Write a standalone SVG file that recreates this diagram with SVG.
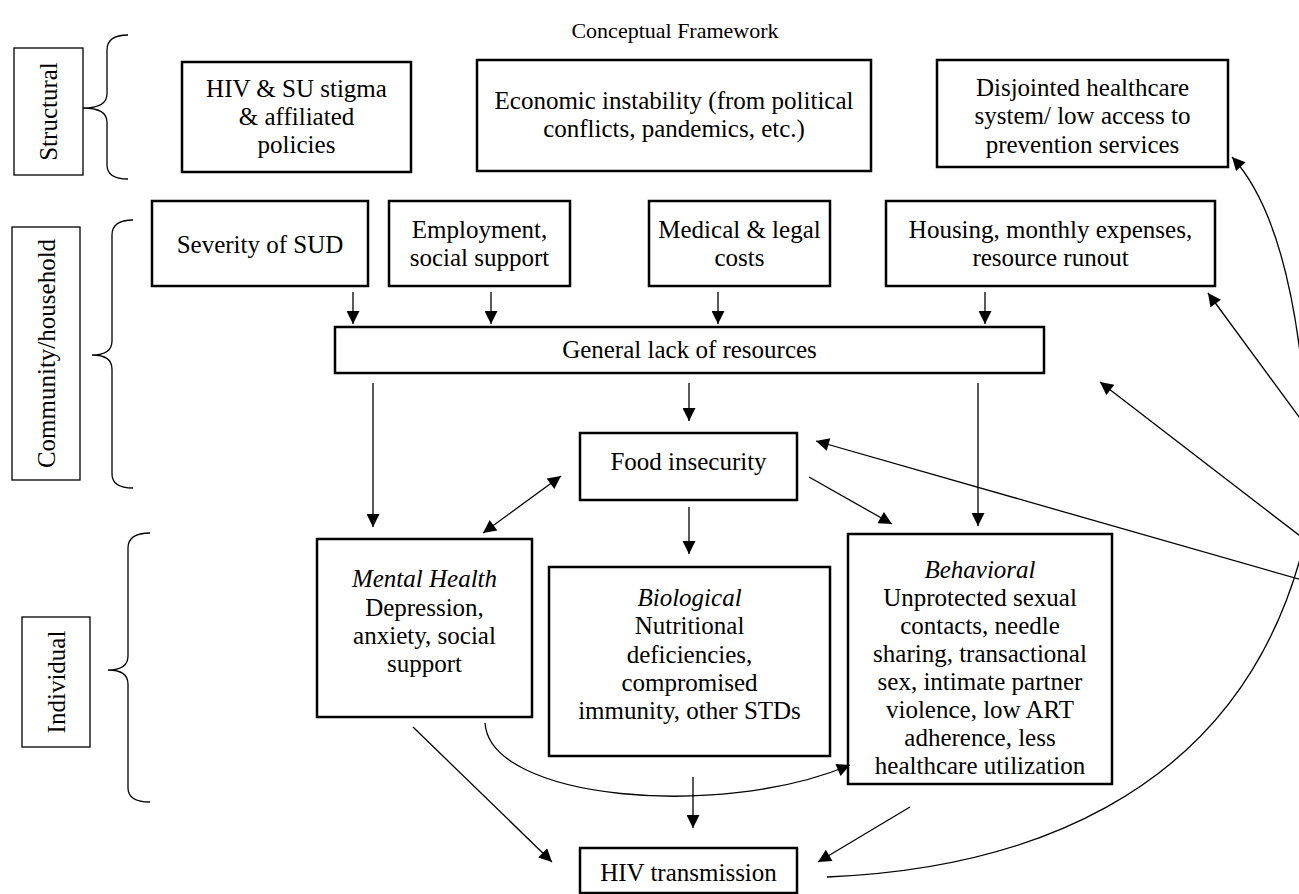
<svg xmlns="http://www.w3.org/2000/svg" width="1299" height="894" viewBox="0 0 1299 894">
<defs>
<style>
text{font-family:"Liberation Serif","Times New Roman",serif;font-size:25px;fill:#000;text-anchor:middle}
.title{font-size:22px}
.it{font-style:italic}
.box{fill:#fff;stroke:#000;stroke-width:2.5}
.lbl{fill:#fff;stroke:#000;stroke-width:1.3}
.brace{fill:none;stroke:#000;stroke-width:1.3}
.c{fill:none;stroke:#000;stroke-width:1.3}
</style>
<marker id="ah" viewBox="0 0 10 10" refX="10" refY="5" markerWidth="15" markerHeight="13" markerUnits="userSpaceOnUse" orient="auto-start-reverse">
<path d="M0,0 L10,5 L0,10 z" fill="#000"/>
</marker>
</defs>
<rect width="1299" height="894" fill="#fff"/>
<text class="title" x="675" y="38">Conceptual Framework</text>

<g id="level-labels">
<g id="structural-label">
<rect class="lbl" x="14" y="48" width="69" height="127"/>
<text transform="translate(57,111.5) rotate(-90)">Structural</text>
<path class="brace" d="M128,35 Q107,35 107,50 L107,94 Q107,108 83,108 Q107,108 107,122 L107,165 Q107,179 128,179"/>
</g>
<g id="community-label">
<rect class="lbl" x="12" y="227" width="68" height="253"/>
<text transform="translate(55,353.5) rotate(-90)">Community/household</text>
<path class="brace" d="M133,220 Q112,220 112,235 L112,341 Q112,355 92,355 Q112,355 112,369 L112,474 Q112,488 133,488"/>
</g>
<g id="individual-label">
<rect class="lbl" x="22" y="617" width="68" height="130"/>
<text transform="translate(65,682) rotate(-90)">Individual</text>
<path class="brace" d="M150,533 Q128,533 128,548 L128,656 Q128,670 108,670 Q128,670 128,684 L128,788 Q128,802 150,802"/>
</g>
</g>

<g id="stigma">
<rect class="box" x="182" y="62" width="229" height="110"/>
<text x="296.5" y="97">HIV &amp; SU stigma</text>
<text x="296.5" y="125">&amp; affiliated</text>
<text x="296.5" y="153">policies</text>
</g>
<g id="economic">
<rect class="box" x="477" y="60" width="394" height="111"/>
<text x="674" y="109">Economic instability (from political</text>
<text x="674" y="137">conflicts, pandemics, etc.)</text>
</g>
<g id="healthcare-system">
<rect class="box" x="937" y="60" width="291" height="107"/>
<text x="1082.5" y="96">Disjointed healthcare</text>
<text x="1082.5" y="124">system/ low access to</text>
<text x="1082.5" y="153">prevention services</text>
</g>

<g id="severity">
<rect class="box" x="152" y="201" width="216" height="85"/>
<text x="260" y="253">Severity of SUD</text>
</g>
<g id="employment">
<rect class="box" x="389" y="201" width="181" height="85"/>
<text x="479.5" y="238">Employment,</text>
<text x="479.5" y="266">social support</text>
</g>
<g id="medical">
<rect class="box" x="649" y="201" width="181" height="85"/>
<text x="739.5" y="238">Medical &amp; legal</text>
<text x="739.5" y="266">costs</text>
</g>
<g id="housing">
<rect class="box" x="886" y="201" width="329" height="85"/>
<text x="1050.5" y="238">Housing, monthly expenses,</text>
<text x="1050.5" y="266">resource runout</text>
</g>

<g id="general-lack">
<rect class="box" x="335" y="327" width="709" height="46"/>
<text x="689.5" y="358">General lack of resources</text>
</g>

<g id="food-insecurity">
<rect class="box" x="580" y="433" width="217" height="67"/>
<text x="688.5" y="470">Food insecurity</text>
</g>

<g id="mental-health">
<rect class="box" x="317" y="539" width="215" height="178"/>
<text class="it" x="424.5" y="587">Mental Health</text>
<text x="424.5" y="615.5">Depression,</text>
<text x="424.5" y="644">anxiety, social</text>
<text x="424.5" y="672">support</text>
</g>
<g id="biological">
<rect class="box" x="549" y="567" width="281" height="189"/>
<text class="it" x="689.5" y="606">Biological</text>
<text x="689.5" y="634">Nutritional</text>
<text x="689.5" y="662.5">deficiencies,</text>
<text x="689.5" y="691">compromised</text>
<text x="689.5" y="719">immunity, other STDs</text>
</g>
<g id="behavioral">
<rect class="box" x="848" y="534" width="264" height="250"/>
<text class="it" x="980" y="578">Behavioral</text>
<text x="980" y="606">Unprotected sexual</text>
<text x="980" y="634">contacts, needle</text>
<text x="980" y="662">sharing, transactional</text>
<text x="980" y="690">sex, intimate partner</text>
<text x="980" y="718">violence, low ART</text>
<text x="980" y="746">adherence, less</text>
<text x="980" y="774">healthcare utilization</text>
</g>

<g id="hiv-transmission">
<rect class="box" x="580" y="848" width="217" height="45"/>
<text x="688.5" y="881">HIV transmission</text>
</g>

<g id="connectors">
<line class="c" x1="353" y1="292" x2="353" y2="324" marker-end="url(#ah)"/>
<line class="c" x1="491" y1="292" x2="491" y2="324" marker-end="url(#ah)"/>
<line class="c" x1="718" y1="292" x2="718" y2="324" marker-end="url(#ah)"/>
<line class="c" x1="985" y1="292" x2="985" y2="324" marker-end="url(#ah)"/>
<line class="c" x1="373" y1="383" x2="373" y2="527" marker-end="url(#ah)"/>
<line class="c" x1="689" y1="383" x2="689" y2="421" marker-end="url(#ah)"/>
<line class="c" x1="978" y1="383" x2="978" y2="526" marker-end="url(#ah)"/>
<line class="c" x1="483" y1="533" x2="561" y2="476" marker-start="url(#ah)" marker-end="url(#ah)"/>
<line class="c" x1="809" y1="477" x2="892" y2="524" marker-end="url(#ah)"/>
<line class="c" x1="689" y1="507" x2="689" y2="554" marker-end="url(#ah)"/>
<line class="c" x1="413" y1="727" x2="552" y2="862" marker-end="url(#ah)"/>
<path class="c" d="M485,723 C490,800 720,820 850,765" marker-end="url(#ah)"/>
<line class="c" x1="693" y1="777" x2="693" y2="828" marker-end="url(#ah)"/>
<line class="c" x1="910" y1="807" x2="818" y2="862" marker-end="url(#ah)"/>
<path class="c" d="M827,877 C1000,870 1240,810 1305,540"/>
<line class="c" x1="1330" y1="588" x2="816" y2="441" marker-end="url(#ah)"/>
<line class="c" x1="1330" y1="559" x2="1100" y2="382" marker-end="url(#ah)"/>
<line class="c" x1="1330" y1="459" x2="1208" y2="293" marker-end="url(#ah)"/>
<path class="c" d="M1305,400 Q1290,220 1232,157" marker-end="url(#ah)"/>
</g>
</svg>
